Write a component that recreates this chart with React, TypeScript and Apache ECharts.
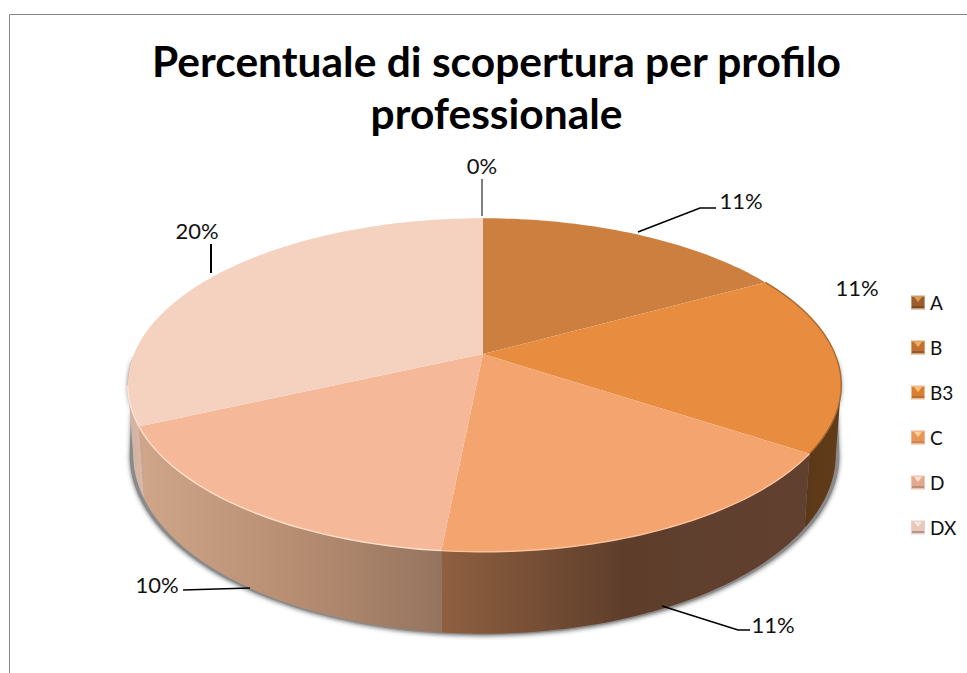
import React, { useEffect, useRef } from "react";
import * as echarts from "echarts";

const categories = ["A", "B", "B3", "C", "D", "DX"];
const sliceValues = [0, 10.65, 10.95, 10.8, 10.45, 20];
const percentLabels = ["0%", "11%", "11%", "11%", "10%", "20%"];

const titleLines = ["Percentuale di scopertura per profilo", "professionale"];

const topColors = ["#a5622c", "#cd7f3f", "#e88d40", "#f4a46f", "#f5b99a", "#f5d1bf"];
const rimColors = ["#a5622c", "#d28a50", "#a8682f", "#fbc49c", "#ffe0c8", "#fbe4d8"];
const sideStops: [number, string][][] = [
  [[0, "#7a4a20"], [1, "#7a4a20"]],
  [[0, "#5c3a1a"], [1, "#5c3a1a"]],
  [[0, "#5a3818"], [1, "#633c18"]],
  [[0, "#8f6040"], [0.5, "#5e3e2b"], [1, "#614030"]],
  [[0, "#d0a68a"], [0.5, "#b88e72"], [1, "#95745f"]],
  [[0, "#cdb0a2"], [1, "#dcb9a8"]],
];
const legendOuter = ["#c89a72", "#d9a070", "#e8bc94", "#eeb48c", "#eec4ae", "#e8d2c8"];
const legendInner = ["#9a5c2c", "#c07032", "#d87f30", "#e8955a", "#e2a98c", "#e8c8b8"];
const legendTip = ["#dc9a50", "#f4b060", "#fcc070", "#fcd090", "#fce0d0", "#f4e8e0"];
const legendFoot = ["#7e4c24", "#96592c", "#b87030", "#c88858", "#b88e7c", "#b09890"];

// perspective of the tilted disc
const CX = 483, CY = 354, RX_RIGHT = 352, RX_LEFT = 349, RY = 161, TILT = 0.186, DEPTH = 66.7, FOOT = 0.985;
const TOTAL = sliceValues.reduce((a, b) => a + b, 0);
const FRONT_FROM = 100.7, FRONT_TO = 259.3;

const toRad = (d: number) => (d * Math.PI) / 180;
const footAt = (deg: number, scale: number, extra: number) => {
  const s = Math.sin(toRad(deg)), c = Math.cos(toRad(deg)), w = 1 + TILT * c;
  const rx = s > 0 ? RX_RIGHT : RX_LEFT;
  return [CX + (scale * rx * s) / w, CY - (RY * c) / w + extra / w];
};
const rimPoint = (deg: number) => footAt(deg, 1, 0);
const footPoint = (deg: number) => footAt(deg, FOOT, DEPTH);
const shadowPoint = (deg: number) => footAt(deg, 0.995, DEPTH + 1);
const arc = (fn: (d: number) => number[], from: number, to: number) => {
  const pts: number[][] = [];
  const n = Math.max(2, Math.ceil(Math.abs(to - from) / 1.2));
  for (let i = 0; i <= n; i++) pts.push(fn(from + ((to - from) * i) / n));
  return pts;
};
const sliceStart = (i: number) =>
  (sliceValues.slice(0, i).reduce((a, b) => a + b, 0) / TOTAL) * 360;

const renderSlice = (i: number) => (_p: any, api: any) => {
  const v = api.value(0);
  if (!v) return { type: "group", children: [] };
  const from = sliceStart(i);
  const to = from + (v / TOTAL) * 360;
  const children: any[] = [];
  const a = Math.max(from, FRONT_FROM), b = Math.min(to, FRONT_TO);
  if (b > a) {
    const top = arc(rimPoint, a, b);
    const foot = arc(footPoint, b, a);
    children.push({
      type: "polygon",
      shape: { points: top.concat(foot) },
      style: {
        fill: new echarts.graphic.LinearGradient(0, 0, 1, 0,
          sideStops[i].map(([offset, color]) => ({ offset, color }))),
      },
    });
  }
  children.push({
    type: "polygon",
    shape: { points: [[CX, CY], ...arc(rimPoint, from, to)] },
    style: { fill: topColors[i] },
  });
  const rimFrom = i === 2 ? from : a;
  if (b > rimFrom) {
    children.push({
      type: "polyline",
      shape: { points: arc(rimPoint, rimFrom, b) },
      style: { fill: "none", stroke: rimColors[i], lineWidth: 1.4 },
    });
  }
  return { type: "group", children };
};

const shadowSeries = {
  type: "custom",
  name: "shadow",
  coordinateSystem: "none",
  silent: true,
  data: [[TOTAL]],
  renderItem: () => ({
    type: "polygon",
    shape: { points: arc(rimPoint, FRONT_FROM - 10, FRONT_TO + 10).concat(arc(shadowPoint, FRONT_TO, FRONT_FROM)) },
    style: { fill: "#8a8a8a", shadowBlur: 4, shadowColor: "rgba(60,60,60,0.7)", shadowOffsetX: 0, shadowOffsetY: 1 },
  }),
};

const labelSpots = [
  { x: 482, y: 165, line: [[482, 179], [482, 216]], w: 1 },
  { x: 741, y: 200, line: [[638, 232], [700, 208], [716, 208]], w: 1.6 },
  { x: 857, y: 287, line: null, w: 1 },
  { x: 773, y: 624, line: [[662, 606], [738, 630], [750, 630]], w: 1.6 },
  { x: 157, y: 584, line: [[183, 590], [250, 588]], w: 1.6 },
  { x: 197, y: 230, line: [[211, 244], [211, 273]], w: 2 },
];

const LEG_X = 911, LEG_Y = 295, LEG_STEP = 45;
const FONT = "Lato, 'Open Sans', sans-serif";

export default function App() {
  const ref = useRef<HTMLDivElement>(null);
  useEffect(() => {
    document.body.style.margin = "0";
    document.body.style.background = "#fff";
    const chart = echarts.init(ref.current!, undefined, { renderer: "svg" });
    const graphics: any[] = [
      { type: "line", shape: { x1: 9.5, y1: 14.5, x2: 967, y2: 14.5 }, style: { stroke: "#868686", lineWidth: 1 } },
      { type: "line", shape: { x1: 9.5, y1: 14.5, x2: 9.5, y2: 673 }, style: { stroke: "#868686", lineWidth: 1 } },
    ];
    labelSpots.forEach((s, i) => {
      if (s.line) {
        graphics.push({
          type: "polyline", z: 20, shape: { points: s.line },
          style: { fill: "none", stroke: "#000", lineWidth: s.w },
        });
      }
      graphics.push({
        type: "text", z: 21, x: s.x, y: s.y,
        style: { text: percentLabels[i], font: `22px ${FONT}`, fill: "#111", textAlign: "center", textVerticalAlign: "middle" },
      });
    });
    categories.forEach((_, i) => {
      const y = LEG_Y + LEG_STEP * i;
      graphics.push(
        { type: "rect", z: 20, shape: { x: LEG_X + 1, y: y + 2, width: 12, height: 10 }, style: { fill: legendInner[i] } },
        { type: "rect", z: 20, shape: { x: LEG_X + 1, y: y + 11, width: 12, height: 2 }, style: { fill: legendFoot[i] } },
        { type: "polygon", z: 21, shape: { points: [[LEG_X + 3, y + 2], [LEG_X + 11, y + 2], [LEG_X + 7, y + 7]] }, style: { fill: legendTip[i] } },
      );
    });
    chart.setOption({
      animation: false,
      backgroundColor: "#fff",
      title: {
        text: titleLines.join("\n"),
        left: 496.5,
        top: 34,
        padding: 0,
        textAlign: "center",
        textStyle: { fontFamily: FONT, fontWeight: "bold", fontSize: 42.5, lineHeight: 52, color: "#000" },
      },
      legend: {
        show: true,
        orient: "vertical",
        left: LEG_X,
        top: LEG_Y - 2,
        padding: 0,
        itemWidth: 14,
        itemHeight: 14,
        itemGap: LEG_STEP - 19,
        icon: "rect",
        selectedMode: false,
        textStyle: { fontFamily: FONT, fontSize: 19, color: "#111" },
        data: categories.map((name, i) => ({
          name,
          itemStyle: { color: legendOuter[i] },
        })),
      },
      graphic: graphics,
      series: [
        shadowSeries,
        ...categories.map((name, i) => ({
          type: "custom",
          name,
          coordinateSystem: "none",
          silent: true,
          itemStyle: { color: topColors[i] },
          data: [[sliceValues[i]]],
          renderItem: renderSlice(i),
        })),
      ],
    });
    return () => chart.dispose();
  }, []);
  return <div ref={ref} style={{ width: 967, height: 673, position: "absolute", left: 0, top: 0 }} />;
}
